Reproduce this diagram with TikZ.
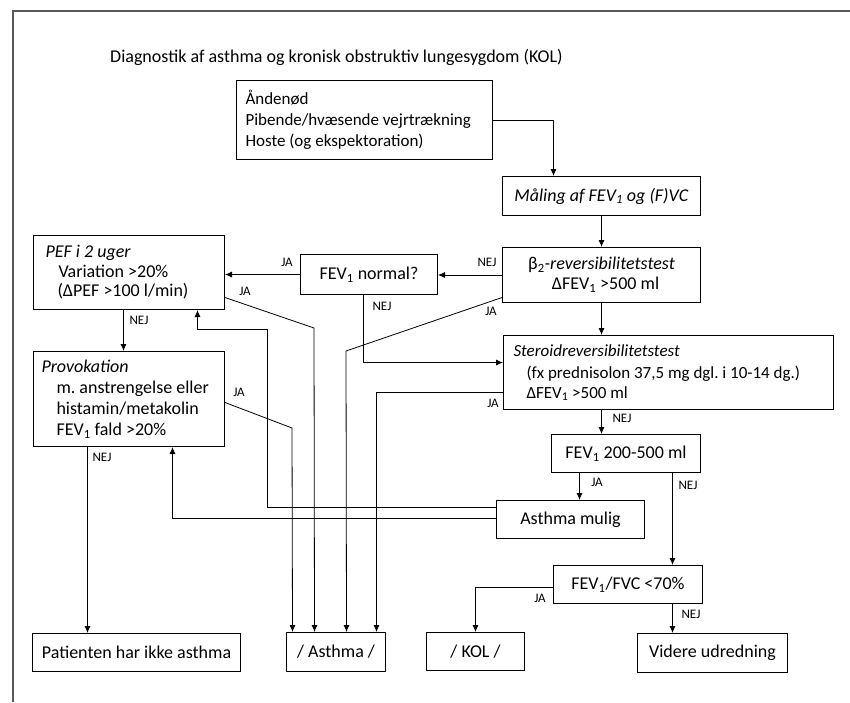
\documentclass[tikz,border=0pt]{standalone}
\usepackage{fontspec}
\setmainfont{Carlito}
\usetikzlibrary{arrows.meta}
\newcommand{\fevi}{FEV\textsubscript{1}}
\frenchspacing

\begin{document}
\begin{tikzpicture}[x=1pt,y=-1pt,>={Latex[length=7pt,width=6pt]},
  box/.style={draw,line width=1pt,inner ysep=0pt,font=\fontsize{18}{21}\selectfont},
  lbl/.style={inner sep=0pt,font=\fontsize{13}{15}\selectfont},
  arr/.style={->,line width=0.8pt}]
  \useasboundingbox (0,0) rectangle (850,702);
  \draw[gray!70!black,line width=1.5pt] (850,11) -- (13,11) -- (13,702);
  \node[anchor=base west,inner sep=0pt,font=\fontsize{18}{21}\selectfont] (title) at (110,62) {Diagnostik af asthma og kronisk obstruktiv lungesygdom (KOL)};

  % boxes
  \node[box,anchor=north west,minimum width=256,minimum height=79,inner xsep=9pt,text width=238pt,align=flush left,font=\fontsize{17}{21}\selectfont] (symp) at (236,80) {Åndenød\\Pibende/hvæsende vejrtrækning\\Hoste (og ekspektoration)};
  \node[box,anchor=north west,minimum width=198,minimum height=39] (maal) at (502,176) {\textit{Måling af FEV\textsubscript{1} og (F)VC}};
  \node[box,anchor=north west,minimum width=198,minimum height=55,align=center] (beta) at (502,247) {β\textsubscript{2}\textit{-reversibilitetstest}\\[-1pt]\hspace*{8pt}Δ\fevi{} >500 ml};
  \node[box,anchor=north west,minimum width=137,minimum height=40] (fevn) at (300,254) {\fevi{} normal?};
  \node[box,anchor=north west,minimum width=191,minimum height=74,inner xsep=12pt,text width=167pt,align=flush left] (pef) at (33,235) {\textit{PEF i 2 uger}\\[-1.5pt]\hspace*{13pt}Variation >20\%\\[-1.5pt]\hspace*{12pt}(ΔPEF >100 l/min)};
  \node[box,anchor=north west,minimum width=191,minimum height=95,inner xsep=8pt,text width=175pt,align=flush left] (prov) at (33,351) {\textit{Provokation}\\\hspace*{15pt}m. anstrengelse eller\\\hspace*{15pt}histamin/metakolin\\\hspace*{15pt}\fevi{} fald >20\%};
  \node[box,anchor=north west,minimum width=330,minimum height=74,inner xsep=10pt,text width=310pt,align=flush left,font=\fontsize{17}{21}\selectfont] (ster) at (503,335) {\textit{Steroidreversibilitetstest}\\[1pt]\hspace*{13pt}(fx prednisolon 37,5 mg dgl. i 10-14 dg.)\\[-1pt]\hspace*{13pt}Δ\fevi{} >500 ml};
  \node[box,anchor=north west,minimum width=149,minimum height=38] (f200) at (551,434) {\fevi{} 200-500 ml};
  \node[box,anchor=north west,minimum width=148,minimum height=38] (mulig) at (496,500) {Asthma mulig};
  \node[box,anchor=north west,minimum width=149,minimum height=38] (ratio) at (553,565) {\fevi/FVC <70\%};
  \node[box,anchor=north west,minimum width=208,minimum height=38] (pat) at (32,633) {Patienten har ikke asthma};
  \node[box,anchor=north west,minimum width=99,minimum height=39] (ast) at (286,632) {/ Asthma /};
  \node[box,anchor=north west,minimum width=98,minimum height=38] (kol) at (426,632) {/ KOL /};
  \node[box,anchor=north west,minimum width=150,minimum height=39] (vid) at (637,633) {Videre udredning};

  % main path
  \draw[arr] (symp.east) -| ([xshift=-48pt]maal.north);
  \draw[arr] (maal.south) -- (beta.north);
  \draw[arr] (beta.west) -- (beta.west -| fevn.east);
  \draw[arr] (fevn.west) -- (fevn.west -| pef.east);
  \draw[arr] ([xshift=-5.5pt]pef.south) -- ([xshift=-5.5pt]prov.north);
  \draw[arr] ([xshift=-41.5pt]prov.south) -- ([xshift=-49pt]pat.north);
  \draw[arr] ([xshift=-5.5pt]fevn.south) |- ([yshift=10pt]ster.west);
  \draw[arr] (beta.south) -- (beta.south |- ster.north);
  \draw[arr] (ster.south -| beta.south) -- (f200.north -| beta.south);
  \draw[arr] ([xshift=-46.5pt]f200.south) -- ([xshift=-46.5pt]f200.south |- mulig.north);
  \draw[arr] ([xshift=46.5pt]f200.south) -- ([xshift=44.5pt]ratio.north);
  \draw[arr] ([yshift=-3pt]ratio.west) -| (kol.north);
  \draw[arr] ([xshift=44.5pt]ratio.south) -- ([xshift=-40pt]vid.north);

  % to asthma
  \draw[arr] ([yshift=-3.5pt]prov.east) -- (292,428) -- ([xshift=-43.5pt]ast.north);
  \draw[arr] ([yshift=-25pt]pef.east) -- (314,328) -- ([xshift=-21.5pt]ast.north);
  \draw[arr] ([yshift=-22.5pt]beta.west) -- (346,351) -- ([xshift=10.5pt]ast.north);
  \draw[arr] ([yshift=-20pt]ster.west) -| ([xshift=40.5pt]ast.north);

  % asthma mulig back
  \draw[arr] ([yshift=12pt]mulig.west) -| (267,329) -| ([xshift=68.5pt]pef.south);
  \draw[arr] ([yshift=1pt]mulig.west) -| ([xshift=43.5pt]prov.south);

  % labels
  \node[lbl] (l1) at (487,262) {NEJ};
  \node[lbl] (l2) at (287,262) {JA};
  \node[lbl] (l3) at (245,291) {JA};
  \node[lbl] (l4) at (139,320) {NEJ};
  \node[lbl] (l5) at (382,306) {NEJ};
  \node[lbl] (l6) at (491,311) {JA};
  \node[lbl] (l7) at (493,403) {JA};
  \node[lbl] (l8) at (239,392) {JA};
  \node[lbl] (l9) at (102,457) {NEJ};
  \node[lbl] (l10) at (622,418) {NEJ};
  \node[lbl] (l11) at (597,482) {JA};
  \node[lbl] (l12) at (688,485) {NEJ};
  \node[lbl] (l13) at (540,598) {JA};
  \node[lbl] (l14) at (691,614) {NEJ};
\end{tikzpicture}
\end{document}
